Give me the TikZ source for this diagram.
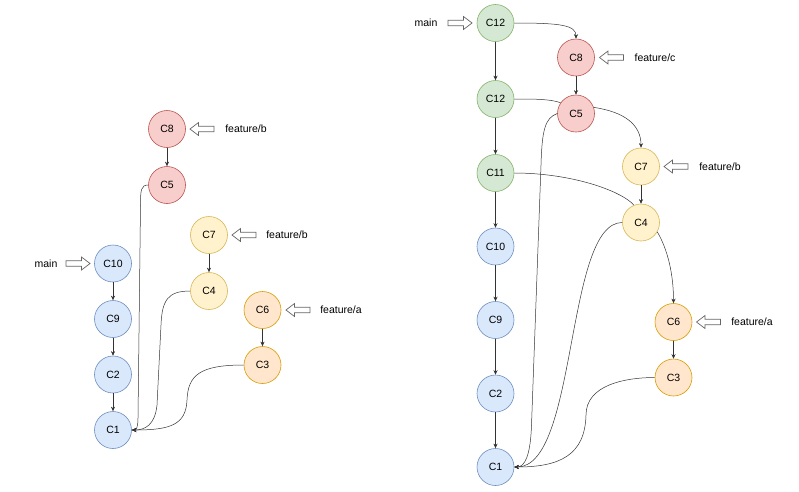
\documentclass[tikz,border=0pt]{standalone}
\usepackage{fontspec}
\setmainfont{Liberation Sans}
\usetikzlibrary{arrows.meta}
\definecolor{bluef}{HTML}{DAE8FC}\definecolor{blued}{HTML}{6C8EBF}
\definecolor{greenf}{HTML}{D5E8D4}\definecolor{greend}{HTML}{82B366}
\definecolor{redf}{HTML}{F8CECC}\definecolor{redd}{HTML}{B85450}
\definecolor{yellowf}{HTML}{FFF2CC}\definecolor{yellowd}{HTML}{D6B656}
\definecolor{orangef}{HTML}{FFE6CC}\definecolor{oranged}{HTML}{D79B00}
\begin{document}
\begin{tikzpicture}[x=1pt,y=-1pt,
  every node/.style={font=\fontsize{10.5}{12}\selectfont},
  commit/.style={circle, minimum size=37pt, inner sep=0pt, line width=0.6pt},
  cblue/.style={commit, draw=blued, fill=bluef},
  cgreen/.style={commit, draw=greend, fill=greenf},
  cred/.style={commit, draw=redd, fill=redf},
  cyellow/.style={commit, draw=yellowd, fill=yellowf},
  corange/.style={commit, draw=oranged, fill=orangef},
  edge/.style={draw=black!80, line width=0.5pt, -{Stealth[length=4.5pt,width=4pt]}},
  plain/.style={draw=black!80, line width=0.5pt},
  ptrline/.style={draw=black!60, fill=white, line width=0.7pt, line join=miter},
  rptr/.pic={\draw[ptrline] (-12,-2.75) -- (3.5,-2.75) -- (3.5,-6.5) -- (12,0) -- (3.5,6.5) -- (3.5,2.75) -- (-12,2.75) -- cycle;},
  lptr/.pic={\draw[ptrline] (12,-2.75) -- (-3.5,-2.75) -- (-3.5,-6.5) -- (-12,0) -- (-3.5,6.5) -- (-3.5,2.75) -- (12,2.75) -- cycle;},
  lbl/.style={inner sep=0pt}]
\useasboundingbox (0,0) rectangle (799,491);

% ---------- left diagram ----------
\node[cred] (C8L) at (167,129) {C8};
\node[cred] (C5L) at (167,185) {C5};
\node[cyellow] (C7L) at (209,235) {C7};
\node[cyellow] (C4L) at (209,291) {C4};
\node[cblue] (C10L) at (113,263.5) {C10};
\node[cblue] (C9L) at (113,319) {C9};
\node[cblue] (C2L) at (113,374.5) {C2};
\node[cblue] (C1L) at (113,430) {C1};
\node[corange] (C6L) at (262.5,310) {C6};
\node[corange] (C3L) at (262.5,365) {C3};

\pic (pL1) at (202,129) {lptr};
\node[lbl] (tL1) at (246,129) {feature/b};
\pic (pL2) at (244,235) {lptr};
\node[lbl] (tL2) at (287,235) {feature/b};
\pic (pL3) at (78,263.5) {rptr};
\node[lbl] (tL3) at (46,263.5) {main};
\pic (pL4) at (298,310) {lptr};
\node[lbl] (tL4) at (341,310) {feature/a};

\draw[edge] (C8L) -- (C5L);
\draw[edge] (C7L) -- (C4L);
\draw[edge] (C10L) -- (C9L);
\draw[edge] (C9L) -- (C2L);
\draw[edge] (C2L) -- (C1L);
\draw[edge] (C6L) -- (C3L);
\draw[edge] (C5L.west) .. controls (141,185) and (140.5,190) .. (140.5,205) -- (138,418) .. controls (138,428) and (136,430) .. (C1L.east);
\draw[edge] (C4L.west) .. controls (168,291) and (162,300) .. (161,325) -- (157,405) .. controls (155,425) and (145,430) .. (C1L.east);
\draw[edge] (C3L.west) .. controls (200,365) and (188,375) .. (187,400) .. controls (186,425) and (170,430) .. (C1L.east);

% ---------- right diagram ----------
\node[cgreen] (C12a) at (495.5,23) {C12};
\node[cred] (C8R) at (576,57.5) {C8};
\node[cgreen] (C12b) at (495.5,99) {C12};
\node[cred] (C5R) at (576,113.5) {C5};
\node[cgreen] (C11) at (495.5,173) {C11};
\node[cyellow] (C7R) at (641,166.5) {C7};
\node[cyellow] (C4R) at (641,222.5) {C4};
\node[cblue] (C10R) at (495.5,246.5) {C10};
\node[cblue] (C9R) at (495.5,320) {C9};
\node[cblue] (C2R) at (495.5,393.5) {C2};
\node[cblue] (C1R) at (495.5,467) {C1};
\node[corange] (C6R) at (673.5,322) {C6};
\node[corange] (C3R) at (673.5,377.5) {C3};

\pic (pR1) at (460,23) {rptr};
\node[lbl] (tR1) at (426,23) {main};
\pic (pR2) at (611.5,57.5) {lptr};
\node[lbl] (tR2) at (655,57.5) {feature/c};
\pic (pR3) at (676,166.5) {lptr};
\node[lbl] (tR3) at (720,166.5) {feature/b};
\pic (pR4) at (708.5,322) {lptr};
\node[lbl] (tR4) at (752,322) {feature/a};

\draw[edge] (C12a) -- (C12b);
\draw[edge] (C12b) -- (C11);
\draw[edge] (C11) -- (C10R);
\draw[edge] (C10R) -- (C9R);
\draw[edge] (C9R) -- (C2R);
\draw[edge] (C2R) -- (C1R);
\draw[edge] (C8R) -- (C5R);
\draw[edge] (C7R) -- (C4R);
\draw[edge] (C6R) -- (C3R);
\draw[edge] (C12a.east) .. controls (560,23) and (576,25) .. (C8R.north);
\draw[plain] (C12b.east) .. controls (535,99) and (550,99) .. (C5R.145);
\draw[edge] (C5R.19) .. controls (625,112) and (641,125) .. (C7R.north);
\draw[plain] (C11.east) .. controls (570,173) and (620,190) .. (C4R.112);
\draw[edge] (C5R.west) .. controls (545,118) and (542,130) .. (541,165) -- (531.5,425) .. controls (530.5,455) and (525,467) .. (C1R.east);
\draw[edge] (C4R.west) .. controls (565,222.5) and (578,467) .. (C1R.east);
\draw[edge] (C3R.west) .. controls (625,377.5) and (586,385) .. (586,415) .. controls (585,455) and (560,467) .. (C1R.east);
\draw[edge] (C4R.-30) .. controls (668,250) and (673.5,275) .. (C6R.north);
\end{tikzpicture}
\end{document}
